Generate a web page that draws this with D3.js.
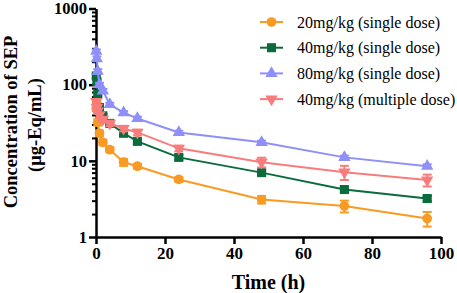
<!DOCTYPE html>
<html>
<head>
<meta charset="utf-8">
<script src="https://cdn.jsdelivr.net/npm/d3@7"></script>
<style>
  body { margin: 0; background: #fff; }
  text { font-family: "Liberation Serif", "Times New Roman", serif; }
</style>
</head>
<body>
<div id="chart"></div>
<script>
// sampling times (h)
const times = [0.083, 0.25, 0.5, 1, 2, 4, 8, 12, 24, 48, 72, 96];

// mean concentrations (µg-Eq/mL)
const dose20 = [48, 56, 32, 23, 17.5, 14, 9.6, 8.5, 5.7, 3.1, 2.55, 1.75];
const dose40 = [130, 110, 75, 50, 39, 31, 23, 18, 11.1, 7.0, 4.2, 3.2];
const dose80 = [275, 220, 150, 100, 83, 55, 43, 36, 23.6, 17.5, 11.1, 8.5];
const dose40m = [60, 50, 45, 40, 35, 31, 26.6, 23.6, 14.6, 9.6, 7.1, 5.6];

// standard deviations
const sd20 = [3, 4, 3, 2, 1.5, 1, 1.0, 0.6, 0.4, 0.35, 0.45, 0.38];
const sd40 = [8, 8, 5, 3, 2, 2, 1.5, 1.2, 0.8, 0.5, 0.3, 0.25];
const sd80 = [15, 15, 10, 6, 5, 3, 2, 2, 1.2, 0.9, 0.6, 0.5];
const sd40m = [4, 3, 3, 3, 2.5, 2.5, 2.2, 2.0, 1.2, 1.4, 1.5, 1.0];

const seriesNames = ["20mg/kg (single dose)", "40mg/kg (single dose)", "80mg/kg (single dose)", "40mg/kg (multiple dose)"];
const seriesColors = ["#F99B22", "#0A6B3C", "#8F8FFA", "#F97C7C"];
const seriesShapes = ["circle", "square", "triangle", "triangleDown"];

const xTicks = [0, 20, 40, 60, 80, 100];
const yTicks = [1, 10, 100, 1000];

const width = 457, height = 293;
const margin = {top: 8.5, right: 16, bottom: 56, left: 96};

const svg = d3.select("#chart").append("svg")
    .attr("width", width)
    .attr("height", height);

const x = d3.scaleLinear().domain([0, 100]).range([margin.left, width - margin.right]);
const y = d3.scaleLog().domain([1, 1000]).range([height - margin.bottom, margin.top]);

const means = [dose20, dose40, dose80, dose40m];
const sds = [sd20, sd40, sd80, sd40m];

const series = seriesNames.map((name, i) => ({
    name: name,
    color: seriesColors[i],
    shape: seriesShapes[i],
    values: times.map((t, j) => ({t: t, v: means[i][j], sd: sds[i][j]}))
}));

const symbolFor = {
    circle: d3.symbol().type(d3.symbolCircle).size(74),
    square: d3.symbol().type(d3.symbolSquare).size(82),
    triangle: d3.symbol().type(d3.symbolTriangle).size(66),
    triangleDown: d3.symbol().type(d3.symbolTriangle).size(66)
};

// axes
const minorY = [];
[1, 10, 100].forEach(d => { for (let k = 2; k <= 9; k++) minorY.push(d * k); });

svg.append("g")
    .attr("transform", "translate(" + margin.left + ",0)")
    .call(d3.axisLeft(y).tickValues(minorY).tickSize(4).tickFormat(""))
    .call(g => g.select(".domain").remove())
    .call(g => g.selectAll("line").attr("stroke", "#000").attr("stroke-width", 2));

svg.append("g")
    .attr("transform", "translate(" + margin.left + ",0)")
    .call(d3.axisLeft(y).tickValues(yTicks).tickSize(7).tickSizeOuter(0).tickFormat(d3.format("d")).tickPadding(2))
    .call(g => g.select(".domain").attr("stroke", "#000").attr("stroke-width", 2.5))
    .call(g => g.selectAll("line").attr("stroke", "#000").attr("stroke-width", 2.5))
    .call(g => g.selectAll("text")
        .attr("fill", "#000")
        .style("font-size", "16.5px")
        .style("font-weight", "bold")
        .style("font-family", "Liberation Serif"));

svg.append("g")
    .attr("transform", "translate(0," + (height - margin.bottom) + ")")
    .call(d3.axisBottom(x).tickValues(xTicks).tickSize(7).tickSizeOuter(0).tickPadding(3))
    .call(g => g.select(".domain").attr("stroke", "#000").attr("stroke-width", 2.5))
    .call(g => g.selectAll("line").attr("stroke", "#000").attr("stroke-width", 2.5))
    .call(g => g.selectAll("text")
        .attr("fill", "#000")
        .style("font-size", "17px")
        .style("font-weight", "bold")
        .style("font-family", "Liberation Serif"));

// axis titles
svg.append("text")
    .attr("x", (x(0) + x(100)) / 2)
    .attr("y", 289)
    .attr("text-anchor", "middle")
    .style("font-size", "20px")
    .style("font-weight", "bold")
    .text("Time (h)");

const yMid = 122;
svg.append("text")
    .attr("transform", "translate(17," + yMid + ") rotate(-90)")
    .attr("text-anchor", "middle")
    .style("font-size", "18.5px")
    .style("font-weight", "bold")
    .text("Concentration of SEP");

svg.append("text")
    .attr("transform", "translate(41," + (yMid + 3) + ") rotate(-90)")
    .attr("text-anchor", "middle")
    .style("font-size", "18.5px")
    .style("font-weight", "bold")
    .text("(μg-Eq/mL)");

// lines, error bars, markers
const line = d3.line().x(d => x(d.t)).y(d => y(d.v));

series.forEach(s => {
    const g = svg.append("g");

    g.append("path")
        .datum(s.values)
        .attr("fill", "none")
        .attr("stroke", s.color)
        .attr("stroke-width", 2)
        .attr("d", line);

    const eb = g.selectAll(".eb").data(s.values).enter().append("g")
        .attr("stroke", s.color)
        .attr("stroke-width", 2);
    eb.append("line")
        .attr("x1", d => x(d.t)).attr("x2", d => x(d.t))
        .attr("y1", d => y(d.v + d.sd)).attr("y2", d => y(Math.max(d.v - d.sd, 1.01)));
    eb.append("line")
        .attr("x1", d => x(d.t) - 4.5).attr("x2", d => x(d.t) + 4.5)
        .attr("y1", d => y(d.v + d.sd)).attr("y2", d => y(d.v + d.sd));
    eb.append("line")
        .attr("x1", d => x(d.t) - 4.5).attr("x2", d => x(d.t) + 4.5)
        .attr("y1", d => y(d.v - d.sd)).attr("y2", d => y(d.v - d.sd));

    g.selectAll(".pt").data(s.values).enter().append("path")
        .attr("d", symbolFor[s.shape])
        .attr("fill", s.color)
        .attr("transform", d => "translate(" + x(d.t) + "," + y(d.v) + ")" + (s.shape === "triangleDown" ? " rotate(180)" : ""));
});

// legend
const legend = svg.append("g").attr("transform", "translate(260,22)");
series.forEach((s, i) => {
    const row = legend.append("g").attr("transform", "translate(0," + (i * 25.7) + ")");
    row.append("line")
        .attr("x1", 0).attr("x2", 23)
        .attr("stroke", s.color).attr("stroke-width", 2);
    row.append("path")
        .attr("d", symbolFor[s.shape])
        .attr("fill", s.color)
        .attr("transform", "translate(11.5,0)" + (s.shape === "triangleDown" ? " rotate(180)" : ""));
    row.append("text")
        .attr("x", 37)
        .attr("y", 0)
        .attr("dy", "0.35em")
        .style("font-size", "16px")
        .text(s.name);
});
</script>
</body>
</html>
